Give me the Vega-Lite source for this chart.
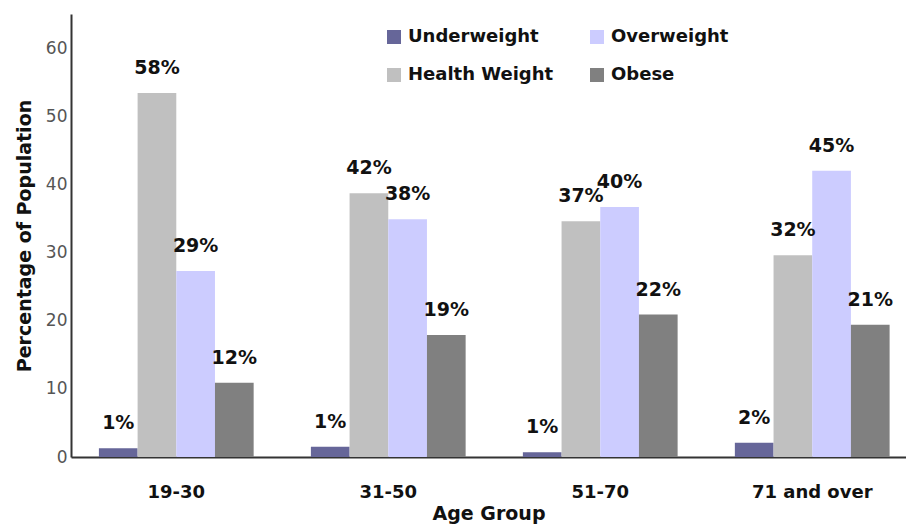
{
  "$schema": "https://vega.github.io/schema/vega-lite/v6.json",
  "width": 835,
  "height": 443,
  "autosize": {"type": "none"},
  "padding": {"left": 71, "top": 14, "right": 0, "bottom": 68},
  "background": "white",
  "config": {
    "view": {"stroke": null},
    "font": "DejaVu Sans"
  },
  "data": {
    "values": [
      {"group": "19-30", "category": "Underweight", "value": 1.3, "label": "1%"},
      {"group": "19-30", "category": "Health Weight", "value": 53.4, "label": "58%"},
      {"group": "19-30", "category": "Overweight", "value": 27.3, "label": "29%"},
      {"group": "19-30", "category": "Obese", "value": 10.9, "label": "12%"},
      {"group": "31-50", "category": "Underweight", "value": 1.5, "label": "1%"},
      {"group": "31-50", "category": "Health Weight", "value": 38.7, "label": "42%"},
      {"group": "31-50", "category": "Overweight", "value": 34.9, "label": "38%"},
      {"group": "31-50", "category": "Obese", "value": 17.9, "label": "19%"},
      {"group": "51-70", "category": "Underweight", "value": 0.7, "label": "1%"},
      {"group": "51-70", "category": "Health Weight", "value": 34.6, "label": "37%"},
      {"group": "51-70", "category": "Overweight", "value": 36.7, "label": "40%"},
      {"group": "51-70", "category": "Obese", "value": 20.9, "label": "22%"},
      {"group": "71 and over", "category": "Underweight", "value": 2.1, "label": "2%"},
      {"group": "71 and over", "category": "Health Weight", "value": 29.6, "label": "32%"},
      {"group": "71 and over", "category": "Overweight", "value": 42.0, "label": "45%"},
      {"group": "71 and over", "category": "Obese", "value": 19.4, "label": "21%"}
    ]
  },
  "encoding": {
    "x": {
      "field": "group",
      "type": "nominal",
      "sort": null,
      "scale": {"paddingInner": 0.27, "paddingOuter": 0.1045, "align": 0.63},
      "axis": {
        "title": "Age Group",
        "labelAngle": 0,
        "labelFont": "DejaVu Sans",
        "labelFontWeight": "bold",
        "labelFontSize": 18,
        "labelColor": "#111",
        "labelPadding": 26,
        "ticks": false,
        "domainColor": "#333",
        "domainWidth": 2,
        "titleFont": "DejaVu Sans",
        "titleFontSize": 19,
        "titleFontWeight": "bold",
        "titleColor": "#111",
        "titlePadding": 3
      }
    },
    "xOffset": {
      "field": "category",
      "type": "nominal",
      "sort": ["Underweight", "Health Weight", "Overweight", "Obese"],
      "scale": {"paddingInner": 0, "paddingOuter": 0}
    },
    "y": {
      "field": "value",
      "type": "quantitative",
      "scale": {"domain": [0, 65], "nice": false},
      "axis": {
        "title": "Percentage of Population",
        "values": [0, 10, 20, 30, 40, 50, 60],
        "grid": false,
        "ticks": false,
        "labelFont": "DejaVu Sans",
        "labelFontSize": 17,
        "labelColor": "#555",
        "labelPadding": 4,
        "domainColor": "#333",
        "domainWidth": 2,
        "titleFont": "DejaVu Sans",
        "titleFontSize": 19,
        "titleFontWeight": "bold",
        "titleColor": "#111",
        "titlePadding": 11
      }
    }
  },
  "layer": [
    {
      "mark": {"type": "bar"},
      "encoding": {
        "color": {
          "field": "category",
          "type": "nominal",
          "scale": {
            "domain": ["Underweight", "Health Weight", "Overweight", "Obese"],
            "range": ["#666699", "#c0c0c0", "#ccccff", "#808080"]
          },
          "legend": {
            "title": null,
            "orient": "none",
            "legendX": 314,
            "legendY": 14,
            "columns": 2,
            "columnPadding": 34,
            "rowPadding": 20,
            "symbolType": "square",
            "symbolSize": 196,
            "symbolStrokeWidth": 0,
            "labelFont": "DejaVu Sans",
            "labelFontWeight": "bold",
            "labelFontSize": 18,
            "labelColor": "#111",
            "labelOffset": 5
          }
        }
      }
    },
    {
      "mark": {
        "type": "text",
        "baseline": "alphabetic",
        "dy": -19,
        "font": "DejaVu Sans",
        "fontWeight": "bold",
        "fontSize": 19,
        "color": "#111"
      },
      "encoding": {
        "text": {"field": "label"}
      }
    }
  ]
}
